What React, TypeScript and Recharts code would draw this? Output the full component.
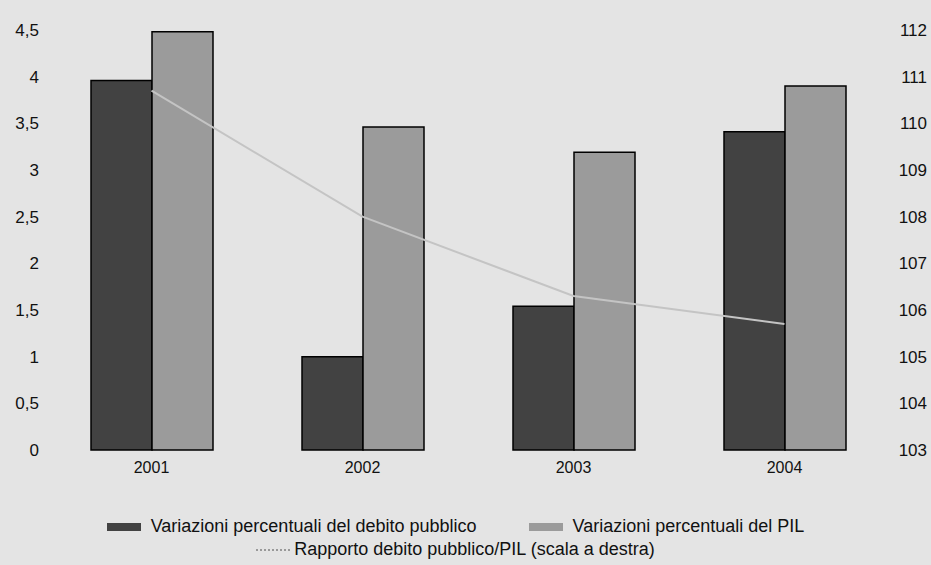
import React from "react";
import {
  Bar,
  ComposedChart,
  Legend,
  Line,
  XAxis,
  YAxis
} from "recharts";

const years = ["2001", "2002", "2003", "2004"];
const debtChange = [3.96, 1.0, 1.54, 3.41];
const gdpChange = [4.48, 3.46, 3.19, 3.9];
const debtToGdp = [110.7, 108.0, 106.3, 105.7];

const leftTicks = [0, 0.5, 1, 1.5, 2, 2.5, 3, 3.5, 4, 4.5];
const rightTicks = [103, 104, 105, 106, 107, 108, 109, 110, 111, 112];

const data = years.map((y, i) => ({
  year: y,
  debito: debtChange[i],
  pil: gdpChange[i],
  rapporto: debtToGdp[i],
}));

const FONT = "'Liberation Sans', Arial, sans-serif";
const DARK = "#424242";
const LIGHT = "#9b9b9b";
const LINE = "#c4c4c4";

const fmt = (v: number) => String(v).replace(".", ",");

const RightTick = (props: any) => {
  const { x, y, payload } = props;
  return (
    <text x={x + 37} y={y} dy="0.35em" textAnchor="end" fontSize={17} fill="#111" fontFamily={FONT}>
      {payload.value}
    </text>
  );
};

const Swatch = ({ color }: { color: string }) => (
  <span
    style={{
      display: "inline-block",
      width: 34,
      height: 8,
      background: color,
      marginRight: 10,
      verticalAlign: "middle",
    }}
  />
);

const ChartLegend = () => (
  <div style={{ height: 85, paddingTop: 35, boxSizing: "border-box", fontFamily: FONT, fontSize: 18, color: "#111" }}>
    <div style={{ display: "flex", justifyContent: "center", lineHeight: "23px", paddingRight: 20 }}>
      <span style={{ marginRight: 52 }}>
        <Swatch color={DARK} />
        Variazioni percentuali del debito pubblico
      </span>
      <span>
        <Swatch color={LIGHT} />
        Variazioni percentuali del PIL
      </span>
    </div>
    <div style={{ display: "flex", justifyContent: "center", lineHeight: "23px", paddingRight: 20 }}>
      <span>
        <span
          style={{
            display: "inline-block",
            width: 34,
            height: 0,
            borderTop: `2px dotted #999`,
            marginRight: 4,
            verticalAlign: "middle",
          }}
        />
        Rapporto debito pubblico/PIL (scala a destra)
      </span>
    </div>
  </div>
);

export default function App() {
  return (
    <div style={{ position: "absolute", left: 0, top: 0, width: 931, height: 565, background: "#e4e4e4" }}>
      <ComposedChart
        width={931}
        height={565}
        data={data}
        margin={{ top: 30, right: 0, left: 0, bottom: 0 }}
        barGap={0}
      >
        <XAxis
          dataKey="year"
          axisLine={false}
          tickLine={false}
          tickSize={0}
          tickMargin={12}
          height={30}
          tick={{ fontSize: 16, fill: "#111", fontFamily: FONT }}
        />
        <YAxis
          yAxisId="left"
          domain={[0, 4.5]}
          ticks={leftTicks}
          interval={0}
          axisLine={false}
          tickLine={false}
          tickSize={0}
          tickMargin={7}
          width={46}
          tickFormatter={fmt}
          tick={{ fontSize: 17, fill: "#111", fontFamily: FONT }}
        />
        <YAxis
          yAxisId="right"
          orientation="right"
          domain={[103, 112]}
          ticks={rightTicks}
          interval={0}
          axisLine={false}
          tickLine={false}
          tickSize={0}
          tickMargin={0}
          width={41}
          tick={<RightTick />}
        />
        <Legend verticalAlign="bottom" content={<ChartLegend />} wrapperStyle={{ left: 0, width: 931 }} />
        <Bar
          yAxisId="left"
          dataKey="debito"
          name="Variazioni percentuali del debito pubblico"
          fill={DARK}
          stroke="#000"
          strokeWidth={1.5}
          barSize={61}
          isAnimationActive={false}
        />
        <Bar
          yAxisId="left"
          dataKey="pil"
          name="Variazioni percentuali del PIL"
          fill={LIGHT}
          stroke="#000"
          strokeWidth={1.5}
          barSize={61}
          isAnimationActive={false}
        />
        <Line
          yAxisId="right"
          dataKey="rapporto"
          name="Rapporto debito pubblico/PIL (scala a destra)"
          stroke={LINE}
          strokeWidth={2}
          dot={false}
          isAnimationActive={false}
        />
      </ComposedChart>
    </div>
  );
}
